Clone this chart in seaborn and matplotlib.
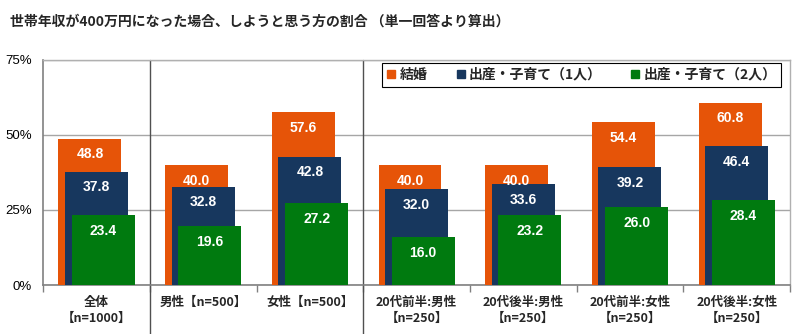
import matplotlib
matplotlib.use('Agg')
import matplotlib.pyplot as plt
import seaborn as sns
import pandas as pd
import numpy as np
from matplotlib.lines import Line2D

# ---- data ----
categories = ['全体\n【n=1000】', '男性【n=500】', '女性【n=500】',
              '20代前半:男性\n【n=250】', '20代後半:男性\n【n=250】',
              '20代前半:女性\n【n=250】', '20代後半:女性\n【n=250】']
series_names = ['結婚', '出産・子育て（1人）', '出産・子育て（2人）']
marriage = [48.8, 40.0, 57.6, 40.0, 40.0, 54.4, 60.8]
child1 = [37.8, 32.8, 42.8, 32.0, 33.6, 39.2, 46.4]
child2 = [23.4, 19.6, 27.2, 16.0, 23.2, 26.0, 28.4]
yticks = [0, 25, 50, 75]
ytick_labels = ['0%', '25%', '50%', '75%']
title = '世帯年収が400万円になった場合、しようと思う方の割合 （単一回答より算出）'

colors = ['#E65408', '#17375E', '#007A0F']
offsets = [-0.062, 0.0, 0.062]
bar_width = 0.59

sns.set_theme(style='white')
plt.rcParams['font.family'] = ['Noto Sans CJK JP', 'DejaVu Sans']

fig = plt.figure(figsize=(8, 3.34), dpi=100)
ax = fig.add_axes([0.054, 0.1467, 0.9335, 0.6737])

for name, vals, color, off in zip(series_names, [marriage, child1, child2], colors, offsets):
    df = pd.DataFrame({'cat': categories, 'val': vals})
    n_before = len(ax.patches)
    sns.barplot(data=df, x='cat', y='val', order=categories, color=color,
                width=bar_width, saturation=1, errorbar=None, linewidth=0,
                ax=ax, zorder=3)
    new = ax.patches[n_before:]
    for p, v in zip(new, vals):
        p.set_x(p.get_x() + off)
        cx = p.get_x() + p.get_width() / 2
        ax.text(cx, v - 5.3, f'{v:.1f}', ha='center', va='center', color='white',
                fontsize=10, fontweight='bold', family='Liberation Sans', zorder=6)

ax.set_xlim(-0.5, 6.5)
ax.set_ylim(0, 75)
ax.set_xlabel('')
ax.set_ylabel('')

ax.set_yticks(yticks)
ax.set_yticklabels(ytick_labels, family='Liberation Sans', fontsize=9.5)
ax.tick_params(axis='y', length=0, pad=8, colors='black')
ax.yaxis.grid(True, color='#a6a6a6', linewidth=1)
ax.set_axisbelow(True)

ax.set_xticks(range(len(categories)))
ax.set_xticklabels(categories, fontsize=9, fontweight='bold', linespacing=1.25)
ax.set_xticks(np.arange(-0.5, len(categories), 1), minor=True)
ax.tick_params(axis='x', which='major', length=0, pad=8)
ax.tick_params(axis='x', which='minor', length=5, color='#808080', width=1)
ax.tick_params(axis='x', which='minor', bottom=True)

for s in ['left', 'bottom']:
    ax.spines[s].set_color('#808080')
    ax.spines[s].set_linewidth(1.2)
for s in ['top', 'right']:
    ax.spines[s].set_color('#b0b0b0')
    ax.spines[s].set_linewidth(1)

# group separators
for xb in [0.5, 2.5]:
    ax.plot([xb, xb], [1, -0.22], transform=ax.get_xaxis_transform(), clip_on=False,
            color='#505050', linewidth=1, zorder=1)

handles = [Line2D([], [], marker='s', linestyle='none', markersize=6,
                  markerfacecolor=c, markeredgecolor=c) for c in colors]
leg = ax.legend(handles, series_names, ncol=3, loc='upper left',
                bbox_to_anchor=(0.454, 0.987), borderaxespad=0, frameon=True,
                fancybox=False, edgecolor='black', framealpha=1,
                handlelength=0.6, handletextpad=0.3, columnspacing=2.1,
                borderpad=0.35, prop={'size': 10, 'weight': 'bold'})
leg.get_frame().set_linewidth(0.8)
leg.set_zorder(10)

fig.text(0.325, 0.934, title, ha='center', va='center', fontsize=10, fontweight='bold')

fig.savefig('out.png', dpi=100)
